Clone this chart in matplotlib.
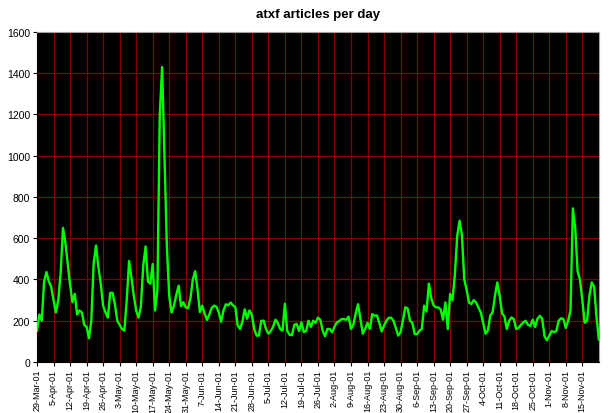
import matplotlib
matplotlib.use('Agg')
import matplotlib.pyplot as plt
import pandas as pd

# daily article counts starting 29-Mar-01
counts = [
    152, 230, 200, 390, 436, 390, 365,
    300, 240, 300, 430, 650, 580, 477,
    375, 290, 330, 230, 250, 240, 180,
    170, 115, 200, 480, 565, 460, 380,
    273, 240, 215, 335, 335, 280, 200,
    180, 160, 152, 300, 490, 410, 321,
    250, 215, 270, 467, 560, 390, 380,
    475, 250, 350, 1200, 1430, 1000, 560,
    321, 240, 273, 325, 370, 270, 290,
    265, 260, 310, 400, 440, 350, 242,
    273, 234, 204, 230, 262, 273, 268,
    240, 195, 250, 280, 275, 288, 275,
    266, 178, 160, 195, 255, 210, 250,
    230, 160, 128, 128, 200, 200, 160,
    137, 150, 170, 205, 190, 160, 152,
    282, 150, 132, 130, 180, 185, 150,
    192, 145, 150, 200, 170, 200, 190,
    215, 205, 152, 125, 160, 160, 144,
    170, 192, 198, 208, 208, 205, 220,
    160, 180, 235, 280, 210, 137, 160,
    190, 160, 232, 224, 226, 190, 148,
    176, 200, 214, 215, 200, 165, 128,
    144, 200, 265, 260, 200, 190, 135,
    135, 152, 160, 273, 245, 380, 310,
    275, 265, 265, 255, 205, 289, 160,
    330, 300, 420, 610, 685, 615, 400,
    350, 288, 281, 300, 289, 265, 240,
    190, 137, 152, 225, 240, 322, 386,
    320, 235, 222, 160, 200, 216, 208,
    160, 165, 180, 192, 200, 180, 175,
    205, 170, 210, 224, 210, 125, 105,
    128, 150, 145, 150, 200, 212, 208,
    165, 200, 250, 745, 650, 440, 400,
    300, 190, 200, 320, 386, 365, 220,
    110,
]
dates = pd.date_range('2001-03-29', periods=len(counts), freq='D')
tick_dates = pd.date_range('2001-03-29', '2001-11-15', freq='7D')
tick_labels = ['%d-%s' % (d.day, d.strftime('%b-%y')) for d in tick_dates]

plt.rcParams['font.family'] = ['Liberation Sans', 'DejaVu Sans']

fig = plt.figure(figsize=(6.12, 4.14), dpi=100)
ax = fig.add_axes([0.0605, 0.1232, 0.918, 0.7971])
ax.set_facecolor('black')

days = [(d - dates[0]).days for d in dates]
tick_pos = [(d - dates[0]).days for d in tick_dates]

ax.plot(days, counts, color='#00ff00', linewidth=1.7, zorder=3)

ax.set_xlim(0, len(counts) - 1)
ax.set_ylim(0, 1600)
ax.set_yticks(range(0, 1601, 200))
ax.set_xticks(tick_pos)
ax.set_xticklabels(tick_labels, rotation=90, fontsize=6.5)
ax.tick_params(axis='y', labelsize=7.5, length=3, pad=2)
ax.tick_params(axis='x', length=3, pad=2)

ax.grid(True, color='#800000', linewidth=0.9, zorder=1)
ax.set_axisbelow(True)
for s in ['top', 'right']:
    ax.spines[s].set_color('#a0a0a0')
for s in ['left', 'bottom']:
    ax.spines[s].set_color('black')

fig.suptitle('atxf articles per day', fontsize=9.5, fontweight='bold', x=0.52, y=0.978)

fig.savefig('out.png', dpi=100)
